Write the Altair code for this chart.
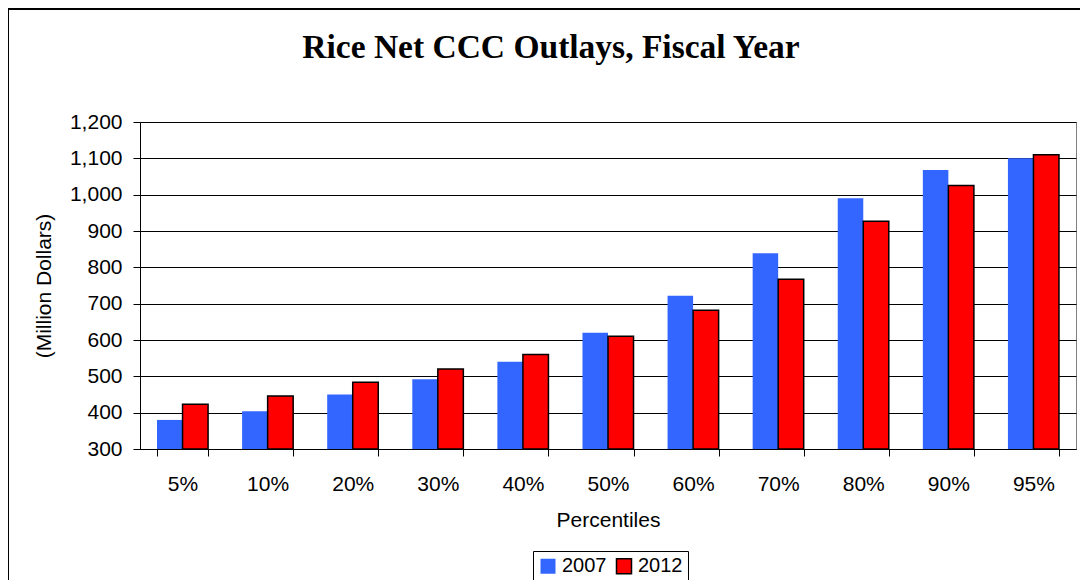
import altair as alt
import pandas as pd

categories = ["5%", "10%", "20%", "30%", "40%", "50%", "60%", "70%", "80%", "90%", "95%"]
years = ["2007", "2012"]
v2007 = [380, 404, 450, 492, 540, 620, 722, 839, 990, 1068, 1100]
v2012 = [423, 446, 484, 520, 560, 610, 682, 767, 927, 1025, 1110]
y_ticks = [300, 400, 500, 600, 700, 800, 900, 1000, 1100, 1200]
title_text = "Rice Net CCC Outlays, Fiscal Year"

rows = []
for c, a, b in zip(categories, v2007, v2012):
    rows.append({"pct": c, "year": "2007", "value": a})
    rows.append({"pct": c, "year": "2012", "value": b})
df = pd.DataFrame(rows)

legend_opts = dict(title=None, orient="none", legendX=393, legendY=429, direction="horizontal")

bars = alt.Chart(df).mark_bar(strokeWidth=1.5).encode(
    x=alt.X("pct:N", sort=categories,
            scale=alt.Scale(paddingInner=0.4, paddingOuter=0.2),
            axis=alt.Axis(title="Percentiles", labelAngle=0, tickBand="extent",
                          grid=False, tickSize=7, labelPadding=17, titlePadding=15)),
    xOffset=alt.XOffset("year:N", sort=years,
                        scale=alt.Scale(paddingInner=0, paddingOuter=0)),
    y=alt.Y("value:Q", scale=alt.Scale(domain=[300, 1200], nice=False, zero=False),
            axis=alt.Axis(title="(Million Dollars)", values=y_ticks, format=",.0f",
                          grid=True, tickSize=7, labelPadding=11, titlePadding=15)),
    y2=alt.datum(300),
    color=alt.Color("year:N", scale=alt.Scale(domain=years, range=["#3366FF", "#FF0000"]),
                    legend=alt.Legend(**legend_opts)),
    stroke=alt.Stroke("year:N", scale=alt.Scale(domain=years, range=["transparent", "black"]),
                      legend=alt.Legend(**legend_opts)),
)

frame = alt.Chart(pd.DataFrame({"a": [0]})).mark_rect(
    fill="transparent", stroke="black", strokeWidth=2
).encode(
    x=alt.value(-132), x2=alt.value(1300), y=alt.value(-113), y2=alt.value(800)
)

title = alt.Chart(pd.DataFrame({"t": [title_text]})).mark_text(
    font="Liberation Serif", fontSize=33.5, fontWeight="bold", color="black",
    align="center", baseline="alphabetic"
).encode(
    text="t:N", x=alt.value(411), y=alt.value(-64)
)

chart = alt.layer(frame, bars, title).properties(
    width=936,
    height=327,
    autosize=alt.AutoSizeParams(type="none"),
    padding={"left": 132, "top": 114, "right": 4, "bottom": 131},
).configure_view(
    stroke="#808080", strokeWidth=1
).configure_axis(
    labelFont="Liberation Sans", labelFontSize=21, labelColor="black",
    titleFont="Liberation Sans", titleFontSize=21, titleFontWeight="normal", titleColor="black",
    domainColor="black", tickColor="black", gridColor="black", gridOpacity=1
).configure_legend(
    strokeColor="black", padding=5, labelFont="Liberation Sans", labelFontSize=20,
    labelColor="black", symbolType="square", symbolSize=225, symbolStrokeWidth=1.5,
    symbolOpacity=1, columnPadding=6, labelOffset=4, cornerRadius=0
)

chart.save("out.html", embed_options={"renderer": "svg", "actions": False})
